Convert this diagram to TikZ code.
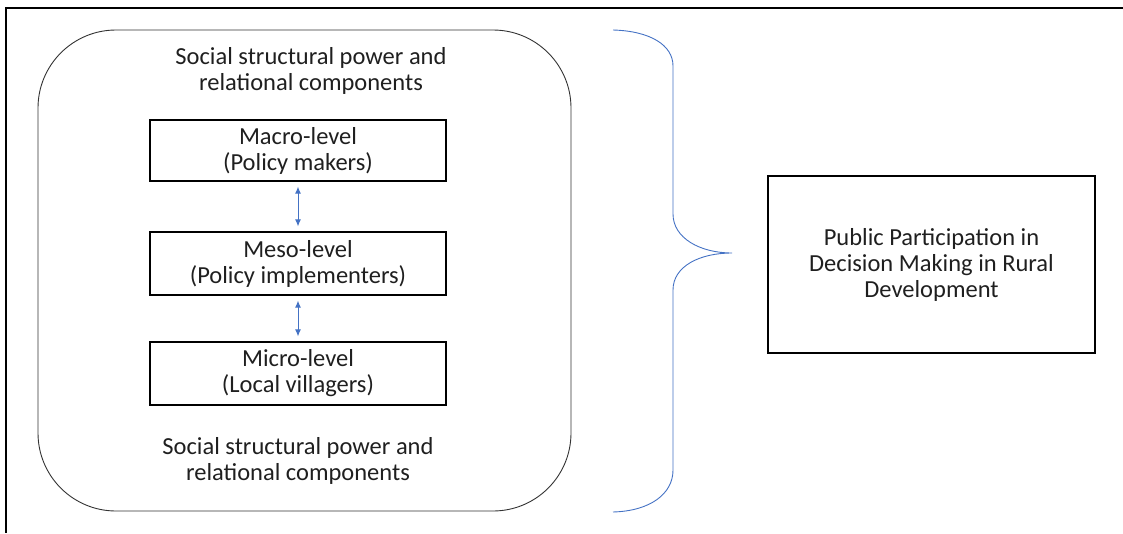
\documentclass[tikz,border=0pt]{standalone}
\usepackage{fontspec}
\setmainfont{Carlito}
\usetikzlibrary{positioning,arrows.meta}

\begin{document}
\begin{tikzpicture}[x=1pt,y=-1pt,
  txt/.style={align=center,font=\fontsize{24.5}{26}\selectfont,text=black!88},
  lvl/.style={txt,draw,line width=1.2pt,minimum width=296pt,inner sep=0pt},
  link/.style={{Latex[length=7pt,width=6pt]}-{Latex[length=7pt,width=6pt]},draw={rgb,255:red,68;green,114;blue,196},line width=1pt,shorten >=5pt,shorten <=5pt}]
\useasboundingbox (0,0) rectangle (1123,533);
% frame
\draw[line width=2pt] (1123,8)--(6,8)--(6,533);
% left group
\node[draw,line width=0.9pt,black!80,rounded corners=78pt,minimum width=533pt,minimum height=481pt] (0) at (304.5,270.5) {};
\node[txt] (1) at (311,71) {Social structural power and\\relational components};
\node[lvl,minimum height=61pt] (2) at (298,150.5) {Macro-level\\(Policy makers)};
\node[lvl,minimum height=63pt] (3) at (298,263.5) {Meso-level\\(Policy implementers)};
\node[lvl,minimum height=63pt] (4) at (298,373.5) {Micro-level\\(Local villagers)};
\node[txt] (5) at (298,461) {Social structural power and\\relational components};
\draw[link] (2)--(3);
\draw[link] (3)--(4);
% brace
\draw[draw={rgb,255:red,68;green,114;blue,196},line width=0.9pt]
  (613,30) .. controls (650,31) and (673,45) .. (673,66) -- (673,214)
  .. controls (673,238) and (700,253) .. (732,253)
  .. controls (700,253) and (673,266) .. (673,290) -- (673,470)
  .. controls (673,494) and (650,511) .. (613,512);
% result
\node[txt,draw,line width=1.2pt,minimum width=327pt,minimum height=177pt] (6) at (931.5,264.5) {Public Participation in\\Decision Making in Rural\\Development};
\end{tikzpicture}
\end{document}
